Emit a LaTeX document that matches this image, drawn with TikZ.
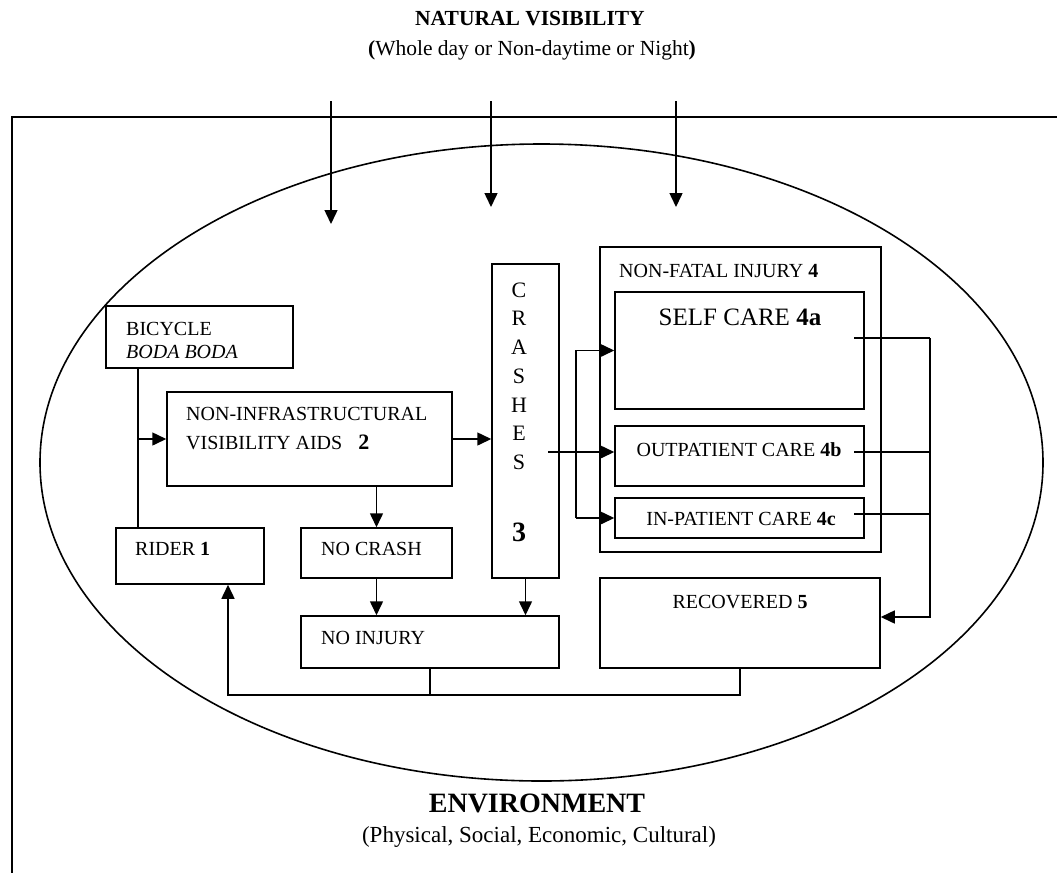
\documentclass[tikz,border=0pt]{standalone}
\usepackage{fontspec}
\setmainfont{Liberation Serif}
\usetikzlibrary{arrows.meta}

\tikzset{
  box/.style={draw, line width=1.5pt, inner sep=0pt},
  txt/.style={inner sep=0pt, anchor=west, font=\fontsize{20}{24}\selectfont},
  ln/.style={line width=1.5pt},
  arr/.style={line width=1.5pt, -{Triangle[length=14pt,width=13pt]}}
}

\begin{document}
\begin{tikzpicture}[x=1pt,y=-1pt]
\useasboundingbox (0,0) rectangle (1057,873);

\node[font=\fontsize{21.5}{25}\selectfont\bfseries] (nat) at (530,19) {NATURAL VISIBILITY};
\node[font=\fontsize{21.5}{25}\selectfont] (natsub) at (532,50) {\textbf{(}Whole day or Non-daytime or Night\textbf{)}};

%\draw frame and ellipse
\draw[ln] (1057,117) -- (12,117) -- (12,873);
\draw[line width=1.6pt] (541.5,462.5) ellipse [x radius=501.5pt, y radius=318.5pt];

\foreach \x/\y in {331/224, 491/207, 676/207}
{
\coordinate (v\x) at (\x,101);
\coordinate (w\x) at (\x,\y);
\draw[arr] (v\x) -- (w\x);
}

%%% boxes
\node[box, minimum width=187pt, minimum height=62pt] (bike) at (199.5,337) {};
\node[box, minimum width=285pt, minimum height=94pt] (aids) at (309.5,439) {};
\node[box, minimum width=148pt, minimum height=56pt] (rider) at (190,556) {};
\node[box, minimum width=151pt, minimum height=50pt] (nocrash) at (376.5,553) {};
\node[box, minimum width=258pt, minimum height=52pt] (noinj) at (430,642) {};
\node[box, minimum width=67pt, minimum height=314pt] (crash) at (525.5,421) {};
\node[box, minimum width=281pt, minimum height=305pt] (nonfatal) at (740.5,399.5) {};
\node[box, minimum width=249pt, minimum height=117pt] (self) at (739.5,350.5) {};
\node[box, minimum width=249pt, minimum height=60pt] (outp) at (739.5,456) {};
\node[box, minimum width=249pt, minimum height=40pt] (inp) at (739.5,518) {};
\node[box, minimum width=280pt, minimum height=90pt] (recov) at (740,623) {};

%%% texts
\node[txt] (bikeA) at (126,329) {BICYCLE};
\node[txt] (bikeB) at (126,352) {\textit{BODA BODA}};
\node[txt] (aidsA) at (186,414) {NON-INFRASTRUCTURAL};
\node[txt] (aidsB) at (186,442) {VISIBILITY AIDS\hspace{16pt}{\fontsize{22}{24}\selectfont\bfseries 2}};
\node[txt] (riderT) at (135,549) {RIDER \textbf{1}};
\node[txt] (nocrashT) at (321,549) {NO CRASH};
\node[txt] (noinjT) at (321,638) {NO INJURY};
\node[txt] (nfT) at (619,271) {NON-FATAL INJURY \textbf{4}};
\node[txt, anchor=center, font=\fontsize{25}{30}\selectfont] (selfT) at (740,317) {SELF CARE \textbf{4a}};
\node[txt, anchor=center] (outpT) at (739,450) {OUTPATIENT CARE \textbf{4b}};
\node[txt, anchor=center] (inpT) at (741,519) {IN-PATIENT CARE \textbf{4c}};
\node[txt, anchor=center] (recovT) at (740,602) {RECOVERED \textbf{5}};

\foreach \l [count=\i from 0] in {C,R,A,S,H,E,S}
\node[inner sep=0pt, font=\fontsize{22}{26}\selectfont] (c\i) at (519,{290+28.7*\i}) {\l};
\node[inner sep=0pt, font=\fontsize{28}{30}\selectfont\bfseries] (three) at (519,532) {3};

%%% connectors
\coordinate (j1) at (138,439);
\draw[ln] (bike.south -| j1) -- (rider.north -| j1);
\draw[arr] (j1) -- (aids.west);
\draw[arr] (aids.east) -- (aids.east -| crash.west);
\draw[arr] (aids.south -| nocrash.north) -- (nocrash.north);
\draw[arr] (nocrash.south) -- (noinj.north -| nocrash.south);
\draw[arr] (crash.south) -- (noinj.north -| crash.south);

\coordinate (cout) at (548,452);
\coordinate (fork) at (576,452);
\draw[arr] (cout) -- (cout -| outp.west);
\draw[arr] (fork |- inp.west) -- (inp.west);
\draw[arr] (fork |- inp.west) -- (fork |- self.west) -- (self.west);

\coordinate (back) at (930,617);
\coordinate (sa) at (854,338);
\coordinate (sb) at (854,452);
\coordinate (sc) at (854,514);
\draw[ln] (sa) -- (back |- sa);
\draw[ln] (sb) -- (back |- sb);
\draw[ln] (sc) -- (back |- sc);
\draw[arr] (back |- sa) -- (back) -- (back -| recov.east);

\coordinate (fb) at (228,695);
\draw[ln] (noinj.south) -- (noinj.south |- fb);
\draw[arr] (recov.south) -- (recov.south |- fb) -- (fb) -- (fb |- rider.south);

%%% environment
\node[font=\fontsize{28}{30}\selectfont\bfseries] (env) at (537,803) {ENVIRONMENT};
\node[font=\fontsize{23}{26}\selectfont] (envsub) at (539,837) {(Physical, Social, Economic, Cultural)};
\end{tikzpicture}
\end{document}
